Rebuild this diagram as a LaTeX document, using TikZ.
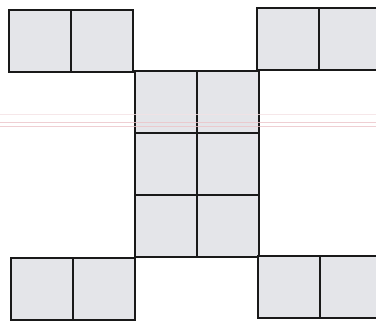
\documentclass[tikz,border=0pt]{standalone}
\begin{document}
\begin{tikzpicture}[x=1pt,y=-1pt,
  cell/.style={draw=black!90, line width=2.4pt, fill=cellgray, rectangle,
    inner sep=0pt, minimum width=62pt, minimum height=62pt, anchor=north west},
  ruled/.style={line width=0.9pt, draw=rulepink}]
\definecolor{cellgray}{RGB}{228,229,233}
\definecolor{rulepink}{RGB}{236,196,200}
\definecolor{rulefaint}{RGB}{244,226,228}
\useasboundingbox (0,0) rectangle (376,322);
\fill[white] (0,0) rectangle (376,322);
% top-left pair
\node[cell] (tla) at (8,9) {};
\node[cell] (tlb) at (70,9) {};
% top-right pair
\node[cell] (tra) at (256,7) {};
\node[cell] (trb) at (318,7) {};
% centre column
\node[cell] (c1a) at (134,70) {};
\node[cell] (c1b) at (196,70) {};
\node[cell] (c2a) at (134,132) {};
\node[cell] (c2b) at (196,132) {};
\node[cell] (c3a) at (134,194) {};
\node[cell] (c3b) at (196,194) {};
% bottom-left pair
\node[cell] (bla) at (10,257) {};
\node[cell] (blb) at (72,257) {};
% bottom-right pair
\node[cell] (bra) at (257,255) {};
\node[cell] (brb) at (319,255) {};
% faint ruled lines of the paper
\draw[line width=0.6pt, draw=rulefaint, opacity=0.8] (0,114) -- (376,114);
\draw[ruled, opacity=0.8] (0,122) -- (376,122);
\draw[ruled, opacity=0.8] (0,126) -- (376,126);
\end{tikzpicture}
\end{document}
